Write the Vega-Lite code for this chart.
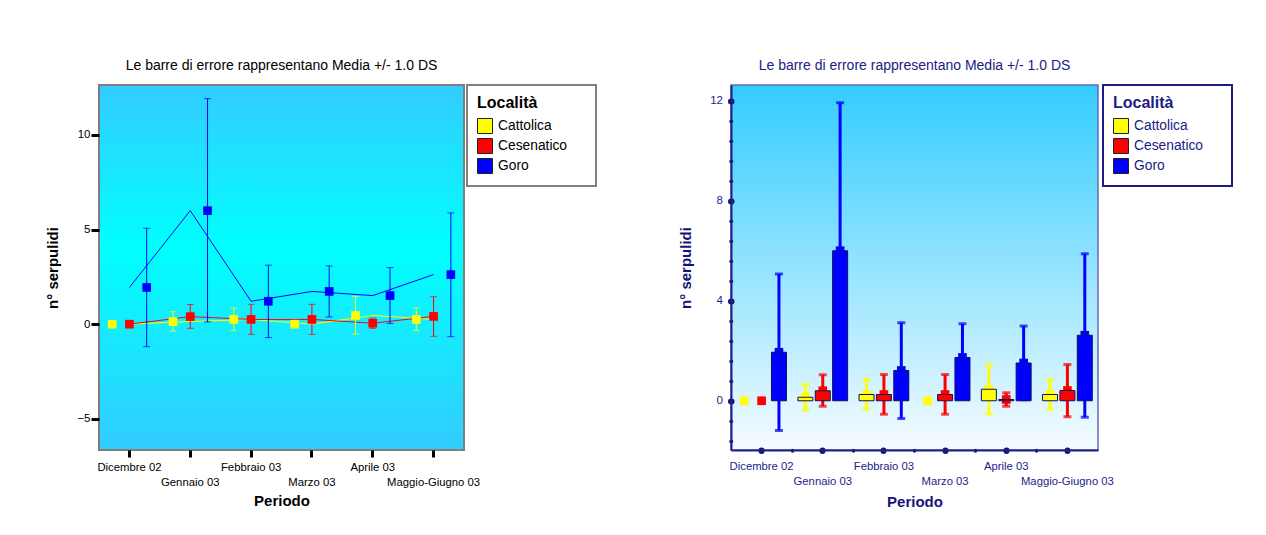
{
  "$schema": "https://vega.github.io/schema/vega-lite/v6.json",
  "background": "#ffffff",
  "padding": {"left": 45, "top": 59, "right": 5, "bottom": 5},
  "bounds": "flush",
  "spacing": 267,
  "config": {
    "font": "Liberation Sans",
    "view": {"stroke": null},
    "legend": {"strokeWidth": 2}
  },
  "resolve": {"scale": {"color": "independent", "fill": "independent", "stroke": "independent", "x": "independent", "y": "independent", "xOffset": "independent"}, "legend": {"color": "independent"}},
  "datasets": {
    "d": [
      {"periodo": "Dicembre 02", "i": 0, "localita": "Cattolica", "mean": 0, "lo": null, "hi": null},
      {"periodo": "Dicembre 02", "i": 0, "localita": "Cesenatico", "mean": 0, "lo": null, "hi": null},
      {"periodo": "Dicembre 02", "i": 0, "localita": "Goro", "mean": 1.94, "lo": -1.19, "hi": 5.07},
      {"periodo": "Gennaio 03", "i": 1, "localita": "Cattolica", "mean": 0.14, "lo": -0.37, "hi": 0.66},
      {"periodo": "Gennaio 03", "i": 1, "localita": "Cesenatico", "mean": 0.4, "lo": -0.22, "hi": 1.04},
      {"periodo": "Gennaio 03", "i": 1, "localita": "Goro", "mean": 6.0, "lo": 0.12, "hi": 11.92},
      {"periodo": "Febbraio 03", "i": 2, "localita": "Cattolica", "mean": 0.25, "lo": -0.34, "hi": 0.85},
      {"periodo": "Febbraio 03", "i": 2, "localita": "Cesenatico", "mean": 0.25, "lo": -0.54, "hi": 1.05},
      {"periodo": "Febbraio 03", "i": 2, "localita": "Goro", "mean": 1.21, "lo": -0.71, "hi": 3.12},
      {"periodo": "Marzo 03", "i": 3, "localita": "Cattolica", "mean": 0, "lo": null, "hi": null},
      {"periodo": "Marzo 03", "i": 3, "localita": "Cesenatico", "mean": 0.25, "lo": -0.54, "hi": 1.05},
      {"periodo": "Marzo 03", "i": 3, "localita": "Goro", "mean": 1.73, "lo": 0.38, "hi": 3.08},
      {"periodo": "Aprile 03", "i": 4, "localita": "Cattolica", "mean": 0.46, "lo": -0.53, "hi": 1.46},
      {"periodo": "Aprile 03", "i": 4, "localita": "Cesenatico", "mean": 0.05, "lo": -0.22, "hi": 0.32},
      {"periodo": "Aprile 03", "i": 4, "localita": "Goro", "mean": 1.51, "lo": 0.04, "hi": 2.99},
      {"periodo": "Maggio-Giugno 03", "i": 5, "localita": "Cattolica", "mean": 0.25, "lo": -0.34, "hi": 0.85},
      {"periodo": "Maggio-Giugno 03", "i": 5, "localita": "Cesenatico", "mean": 0.41, "lo": -0.64, "hi": 1.45},
      {"periodo": "Maggio-Giugno 03", "i": 5, "localita": "Goro", "mean": 2.62, "lo": -0.66, "hi": 5.88}
    ]
  },
  "hconcat": [
    {
      "width": 365,
      "height": 365,
      "title": {"text": "Le barre di  errore rappresentano Media +/- 1.0 DS", "fontSize": 14, "fontWeight": "normal", "color": "#000000", "offset": 11, "anchor": "middle", "frame": "group"},
      "data": {"name": "d"},
      "resolve": {"axis": {"x": "independent", "y": "independent"}},
      "layer": [
        {
          "data": {"values": [{}]},
          "mark": {"type": "rect", "stroke": "#7f7f7f", "strokeWidth": 2, "color": {"gradient": "linear", "x1": 0, "y1": 0, "x2": 0, "y2": 1, "stops": [{"offset": 0, "color": "#33ccff"}, {"offset": 0.45, "color": "#00ffff"}, {"offset": 1, "color": "#33ccff"}]}},
          "encoding": {}
        },
        {
          "mark": {"type": "line", "strokeWidth": 1},
          "encoding": {
            "x": {"field": "periodo", "type": "nominal", "sort": ["Dicembre 02", "Gennaio 03", "Febbraio 03", "Marzo 03", "Aprile 03", "Maggio-Giugno 03"], "scale": {"paddingInner": 0, "paddingOuter": 0}, "title": "Periodo",
              "axis": {"orient": "bottom", "zindex": 2, "domain": false, "grid": false, "tickSize": 7, "tickWidth": 3, "tickColor": "#000000", "labelAngle": 0, "labelFontSize": 11.3, "labelColor": "#000000", "labelPadding": 4, "labelLineHeight": 15, "labelOverlap": false, "labelExpr": "indexof(['Gennaio 03','Marzo 03','Maggio-Giugno 03'], datum.value) >= 0 ? ['', datum.label] : datum.label", "titleFontSize": 15, "titleFontWeight": "bold", "titleColor": "#000000", "titlePadding": 6}},
            "y": {"field": "mean", "type": "quantitative", "scale": {"domain": [-6.65, 12.64], "nice": false, "zero": false}, "title": "n° serpulidi",
              "axis": {"orient": "left", "zindex": 2, "values": [-5, 0, 5, 10], "domain": false, "grid": false, "tickSize": 8, "tickWidth": 3, "tickColor": "#000000", "labelFontSize": 11.5, "labelColor": "#000000", "labelPadding": 1, "titleFontSize": 15, "titleFontWeight": "bold", "titleColor": "#000000", "titlePadding": 16}},
            "stroke": {"field": "localita", "type": "nominal", "scale": {"domain": ["Cattolica", "Cesenatico", "Goro"], "range": ["#ffff00", "#ff0000", "#0000ff"]}, "legend": null},
            "order": {"field": "i"}
          }
        },
        {
          "transform": [{"filter": "isValid(datum.lo)"}],
          "mark": {"type": "rule", "strokeWidth": 1},
          "encoding": {
            "x": {"field": "periodo", "type": "nominal", "sort": ["Dicembre 02", "Gennaio 03", "Febbraio 03", "Marzo 03", "Aprile 03", "Maggio-Giugno 03"], "axis": null},
            "xOffset": {"field": "localita", "type": "nominal", "scale": {"paddingInner": 0, "paddingOuter": 0.26}},
            "y": {"field": "lo", "type": "quantitative", "axis": null},
            "y2": {"field": "hi"},
            "stroke": {"field": "localita", "type": "nominal", "scale": {"domain": ["Cattolica", "Cesenatico", "Goro"], "range": ["#ffff00", "#ff0000", "#0000ff"]}, "legend": null}
          }
        },
        {
          "transform": [{"filter": "isValid(datum.lo)"}],
          "mark": {"type": "tick", "thickness": 1, "size": 7},
          "encoding": {
            "x": {"field": "periodo", "type": "nominal", "sort": ["Dicembre 02", "Gennaio 03", "Febbraio 03", "Marzo 03", "Aprile 03", "Maggio-Giugno 03"], "axis": null},
            "xOffset": {"field": "localita", "type": "nominal"},
            "y": {"field": "hi", "type": "quantitative", "axis": null},
            "fill": {"field": "localita", "type": "nominal", "scale": {"domain": ["Cattolica", "Cesenatico", "Goro"], "range": ["#ffff00", "#ff0000", "#0000ff"]}, "legend": null}
          }
        },
        {
          "transform": [{"filter": "isValid(datum.lo)"}],
          "mark": {"type": "tick", "thickness": 1, "size": 7},
          "encoding": {
            "x": {"field": "periodo", "type": "nominal", "sort": ["Dicembre 02", "Gennaio 03", "Febbraio 03", "Marzo 03", "Aprile 03", "Maggio-Giugno 03"], "axis": null},
            "xOffset": {"field": "localita", "type": "nominal"},
            "y": {"field": "lo", "type": "quantitative", "axis": null},
            "fill": {"field": "localita", "type": "nominal", "scale": {"domain": ["Cattolica", "Cesenatico", "Goro"], "range": ["#ffff00", "#ff0000", "#0000ff"]}, "legend": null}
          }
        },
        {
          "mark": {"type": "point", "shape": "square", "filled": true, "size": 75, "opacity": 1},
          "encoding": {
            "x": {"field": "periodo", "type": "nominal", "sort": ["Dicembre 02", "Gennaio 03", "Febbraio 03", "Marzo 03", "Aprile 03", "Maggio-Giugno 03"], "axis": null},
            "xOffset": {"field": "localita", "type": "nominal"},
            "y": {"field": "mean", "type": "quantitative", "axis": null},
            "color": {"field": "localita", "type": "nominal", "scale": {"range": ["#ffff00", "#ff0000", "#0000ff"]},
              "legend": {"title": "Località\u2003\u2003\u2003\u200b", "orient": "right", "offset": 3, "padding": 10, "strokeColor": "#808080", "fillColor": "#ffffff", "titleFontSize": 16, "titleFontWeight": "bold", "titleColor": "#000000", "titlePadding": 7, "labelFontSize": 13.8, "labelColor": "#000000", "labelOffset": 5, "rowPadding": 0, "symbolType": "square", "symbolSize": 225, "symbolStrokeColor": "#222222", "symbolStrokeWidth": 1, "symbolOpacity": 1}}
          }
        }
      ]
    },
    {
      "width": 367,
      "height": 365,
      "title": {"text": "Le barre di  errore rappresentano Media +/- 1.0 DS", "fontSize": 14, "fontWeight": "normal", "color": "#1c1c84", "offset": 11, "anchor": "middle", "frame": "group"},
      "data": {"name": "d"},
      "resolve": {"axis": {"x": "independent", "y": "independent"}},
      "layer": [
        {
          "data": {"values": [{}]},
          "mark": {"type": "rect", "stroke": "#6a6ab4", "strokeWidth": 1.5, "color": {"gradient": "linear", "x1": 0, "y1": 0, "x2": 0, "y2": 1, "stops": [{"offset": 0, "color": "#33ccff"}, {"offset": 1, "color": "#f5fbff"}]}},
          "encoding": {}
        },
        {
          "transform": [{"filter": "isValid(datum.lo)"}],
          "mark": {"type": "rule", "strokeWidth": 3},
          "encoding": {
            "x": {"field": "periodo", "type": "nominal", "sort": ["Dicembre 02", "Gennaio 03", "Febbraio 03", "Marzo 03", "Aprile 03", "Maggio-Giugno 03"], "scale": {"paddingInner": 0, "paddingOuter": 0},
              "axis": {"orient": "bottom", "zindex": 2, "values": ["Gennaio 03", "Febbraio 03", "Marzo 03", "Aprile 03", "Maggio-Giugno 03"], "bandPosition": 0, "domain": false, "grid": false, "labels": false, "title": null, "tickSize": 0.5, "tickWidth": 3.5, "tickCap": "round", "tickColor": "#16166a"}},
            "xOffset": {"field": "localita", "type": "nominal", "scale": {"paddingInner": 0, "paddingOuter": 0.26}},
            "y": {"field": "lo", "type": "quantitative", "scale": {"domain": [-1.97, 12.63], "nice": false, "zero": false},
              "axis": {"orient": "left", "zindex": 2, "values": [-1.6, -0.8, 0.8, 1.6, 2.4, 3.2, 4.8, 5.6, 6.4, 7.2, 8.8, 9.6, 10.4, 11.2], "domain": false, "grid": false, "labels": false, "title": null, "tickSize": 0.5, "tickWidth": 3.5, "tickCap": "round", "tickColor": "#16166a"}},
            "y2": {"field": "hi"},
            "stroke": {"field": "localita", "type": "nominal", "scale": {"domain": ["Cattolica", "Cesenatico", "Goro"], "range": ["#ffff00", "#ff0000", "#0000ff"]}, "legend": null}
          }
        },
        {
          "transform": [{"filter": "isValid(datum.lo)"}],
          "mark": {"type": "tick", "thickness": 3, "size": 8},
          "encoding": {
            "x": {"field": "periodo", "type": "nominal", "sort": ["Dicembre 02", "Gennaio 03", "Febbraio 03", "Marzo 03", "Aprile 03", "Maggio-Giugno 03"], "axis": null},
            "xOffset": {"field": "localita", "type": "nominal"},
            "y": {"field": "hi", "type": "quantitative", "axis": null},
            "fill": {"field": "localita", "type": "nominal", "scale": {"domain": ["Cattolica", "Cesenatico", "Goro"], "range": ["#ffff00", "#ff0000", "#0000ff"]}, "legend": null}
          }
        },
        {
          "transform": [{"filter": "isValid(datum.lo)"}],
          "mark": {"type": "tick", "thickness": 3, "size": 8},
          "encoding": {
            "x": {"field": "periodo", "type": "nominal", "sort": ["Dicembre 02", "Gennaio 03", "Febbraio 03", "Marzo 03", "Aprile 03", "Maggio-Giugno 03"], "axis": null},
            "xOffset": {"field": "localita", "type": "nominal"},
            "y": {"field": "lo", "type": "quantitative", "axis": null},
            "fill": {"field": "localita", "type": "nominal", "scale": {"domain": ["Cattolica", "Cesenatico", "Goro"], "range": ["#ffff00", "#ff0000", "#0000ff"]}, "legend": null}
          }
        },
        {
          "mark": {"type": "point", "shape": "square", "filled": true, "size": 75, "opacity": 1},
          "encoding": {
            "x": {"field": "periodo", "type": "nominal", "sort": ["Dicembre 02", "Gennaio 03", "Febbraio 03", "Marzo 03", "Aprile 03", "Maggio-Giugno 03"], "axis": null},
            "xOffset": {"field": "localita", "type": "nominal"},
            "y": {"field": "mean", "type": "quantitative", "axis": null},
            "color": {"field": "localita", "type": "nominal", "scale": {"range": ["#ffff00", "#ff0000", "#0000ff"]},
              "legend": {"title": "Località\u2003\u2003\u2003\u200b", "orient": "right", "offset": 5, "padding": 10, "strokeColor": "#1c1c84", "fillColor": "#ffffff", "titleFontSize": 16, "titleFontWeight": "bold", "titleColor": "#1c1c84", "titlePadding": 7, "labelFontSize": 13.8, "labelColor": "#1c1c84", "labelOffset": 5, "rowPadding": 0, "symbolType": "square", "symbolSize": 225, "symbolStrokeColor": "#222222", "symbolStrokeWidth": 1, "symbolOpacity": 1}}
          }
        },
        {
          "transform": [{"filter": "datum.mean > 0"}],
          "mark": {"type": "bar", "width": 15, "stroke": "#10105e", "strokeWidth": 1},
          "encoding": {
            "x": {"field": "periodo", "type": "nominal", "sort": ["Dicembre 02", "Gennaio 03", "Febbraio 03", "Marzo 03", "Aprile 03", "Maggio-Giugno 03"], "title": "Periodo",
              "axis": {"orient": "bottom", "zindex": 3, "domain": true, "domainColor": "#20208c", "domainWidth": 2, "grid": false, "tickSize": 0.5, "tickWidth": 6, "tickCap": "round", "tickColor": "#16166a", "labelAngle": 0, "labelFontSize": 11.3, "labelColor": "#1e1e8a", "labelPadding": 10, "labelLineHeight": 15, "labelOverlap": false, "labelExpr": "indexof(['Gennaio 03','Marzo 03','Maggio-Giugno 03'], datum.value) >= 0 ? ['', datum.label] : datum.label", "titleFontSize": 15, "titleFontWeight": "bold", "titleColor": "#14147a", "titlePadding": 8}},
            "xOffset": {"field": "localita", "type": "nominal"},
            "y": {"field": "mean", "type": "quantitative", "title": "n° serpulidi",
              "axis": {"orient": "left", "zindex": 3, "values": [0, 4, 8, 12], "domain": true, "domainColor": "#20208c", "domainWidth": 2, "grid": false, "tickSize": 0.5, "tickWidth": 6, "tickCap": "round", "tickColor": "#16166a", "labelFontSize": 11.5, "labelColor": "#1e1e8a", "labelPadding": 8, "titleFontSize": 15, "titleFontWeight": "bold", "titleColor": "#14147a", "titlePadding": 16}},
            "y2": {"datum": 0},
            "fill": {"field": "localita", "type": "nominal", "scale": {"domain": ["Cattolica", "Cesenatico", "Goro"], "range": ["#ffff00", "#ff0000", "#0000ff"]}, "legend": null}
          }
        }
      ]
    }
  ]
}
